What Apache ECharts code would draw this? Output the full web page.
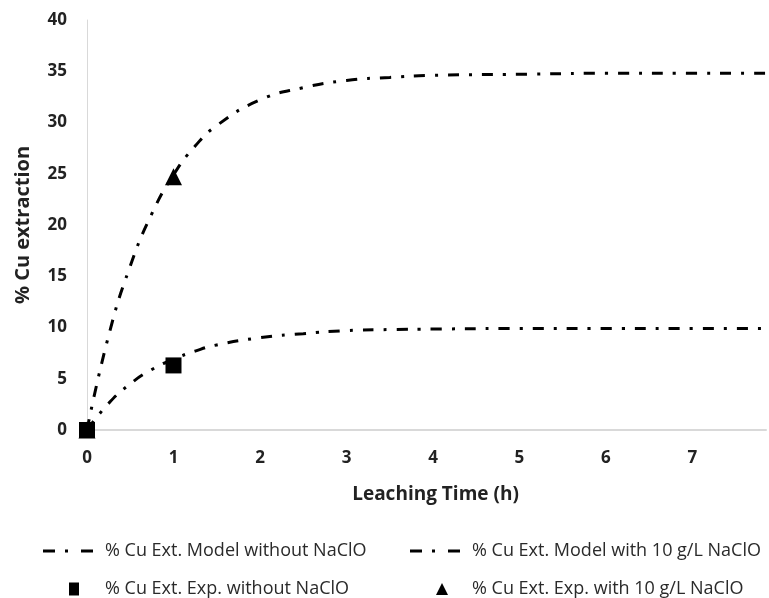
<!DOCTYPE html>
<html>
<head>
<meta charset="utf-8">
<script src="https://cdn.jsdelivr.net/npm/echarts@6/dist/echarts.min.js"></script>
<style>
  html, body { margin: 0; padding: 0; background: #fff; }
  #chart { width: 769px; height: 598px; }
</style>
</head>
<body>
<div id="chart"></div>
<script>
// values
const timeModel = [0, 0.25, 0.5, 0.75, 1, 1.25, 1.5, 2, 2.5, 3, 3.5, 4, 5, 6, 7, 7.85];
const modelWithout = [0, 2.6, 4.5, 5.9, 6.9, 7.7, 8.3, 9.0, 9.4, 9.7, 9.8, 9.85, 9.9, 9.9, 9.9, 9.9];
const modelWith = [0, 9.2, 16.0, 21.1, 24.9, 27.7, 29.7, 32.2, 33.4, 34.1, 34.4, 34.6, 34.7, 34.8, 34.8, 34.8];
const timeExp = [0, 1];
const expWithout = [0, 6.3];
const expWith = [0, 24.7];
const xTicks = ['0', '1', '2', '3', '4', '5', '6', '7'];

const names = [
  '% Cu Ext. Model without NaClO',
  '% Cu Ext. Model with 10 g/L NaClO',
  '% Cu Ext. Exp. without NaClO',
  '% Cu Ext. Exp. with 10 g/L NaClO'
];

const font = 'Open Sans';
const dashDot = [11, 10, 3, 10];
// legend icon: dash, dot, dash
const dashIcon = 'path://M0,0h12v3h-12z M22,0h3v3h-3z M38,0h12v3h-12z';
const pairs = (xs, ys) => xs.map((x, i) => [x, ys[i]]);

const chart = echarts.init(document.getElementById('chart'));

const oneLegend = (name, icon, left, top, w, h, pad) => ({
  data: [{ name: name, icon: icon }],
  left: left,
  top: top,
  itemWidth: w,
  itemHeight: h,
  textStyle: { fontFamily: font, fontSize: 18, color: '#2a2a2a', padding: [0, 0, 0, pad] },
  selectedMode: false
});

chart.setOption({
  animation: false,
  backgroundColor: '#fff',
  grid: { left: 87, right: 0, top: 20, bottom: 168 },
  xAxis: {
    type: 'value',
    min: 0,
    max: 7.85,
    interval: 1,
    name: 'Leaching Time (h)',
    nameLocation: 'middle',
    nameGap: 55,
    nameTextStyle: { fontFamily: font, fontSize: 19, fontWeight: 'bold', color: '#222', padding: [0, 0, 0, 18] },
    axisLine: { show: true, lineStyle: { color: '#d9d9d9', width: 2 } },
    axisTick: { show: false },
    splitLine: { show: false },
    axisLabel: {
      margin: 20,
      fontFamily: font,
      fontSize: 17,
      fontWeight: 'bold',
      color: '#222',
      formatter: v => (Number.isInteger(v) ? xTicks[v] : '')
    }
  },
  yAxis: {
    type: 'value',
    min: 0,
    max: 40,
    interval: 5,
    name: '% Cu extraction',
    nameLocation: 'middle',
    nameGap: 54,
    nameRotate: 90,
    nameTextStyle: { fontFamily: font, fontSize: 20, fontWeight: 'bold', color: '#222' },
    axisLine: { show: true, lineStyle: { color: '#d9d9d9', width: 1 } },
    axisTick: { show: false },
    splitLine: { show: false },
    axisLabel: { margin: 20, fontFamily: font, fontSize: 17, fontWeight: 'bold', color: '#222' }
  },
  legend: [
    oneLegend(names[0], dashIcon, 38, 537, 50, 4, 7),
    oneLegend(names[1], dashIcon, 405, 537, 50, 4, 7),
    oneLegend(names[2], 'rect', 64, 575, 10, 13, 21),
    oneLegend(names[3], 'triangle', 431, 575, 12, 12, 19)
  ],
  series: [
    {
      name: names[0],
      type: 'line',
      smooth: true,
      symbol: 'none',
      data: pairs(timeModel, modelWithout),
      lineStyle: { color: '#000', width: 3, type: dashDot, cap: 'butt' },
      itemStyle: { color: '#000' }
    },
    {
      name: names[1],
      type: 'line',
      smooth: true,
      symbol: 'none',
      data: pairs(timeModel, modelWith),
      lineStyle: { color: '#000', width: 3, type: dashDot, cap: 'butt' },
      itemStyle: { color: '#000' }
    },
    {
      name: names[3],
      type: 'scatter',
      symbol: 'triangle',
      symbolSize: 17,
      data: pairs(timeExp, expWith),
      itemStyle: { color: '#000', opacity: 1 },
      z: 3
    },
    {
      name: names[2],
      type: 'scatter',
      symbol: 'rect',
      symbolSize: 16,
      data: pairs(timeExp, expWithout),
      itemStyle: { color: '#000', opacity: 1 },
      z: 4
    }
  ]
});
</script>
</body>
</html>
